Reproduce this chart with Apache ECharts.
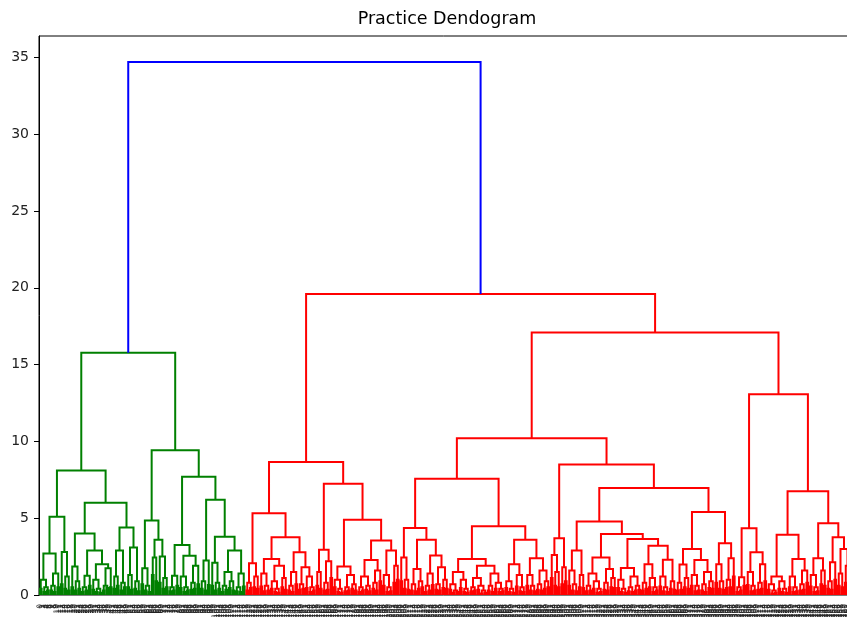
<!DOCTYPE html>
<html>
<head>
<meta charset="utf-8">
<script src="https://cdn.jsdelivr.net/npm/echarts@6/dist/echarts.min.js"></script>
<style>html,body{margin:0;padding:0;background:#fff}#c{width:847px;height:617px}</style>
</head>
<body>
<div id="c"></div>
<script>
// ---- Data: dendrogram merges as [height, left, right]; 0 = a leaf ----
const rootHeight = 34.7;
const greenTopHeight = 15.77;
const redTopHeight = 19.6;

// green cluster
const gG1L = [5.1, [2.7, [1.0, [0.4,0,0], [0.5, [0.2,0,0], [0.3,0,0]]], [1.4, [0.6, [0.3,0,0], [0.2,0,0]], [0.5,0,0]]], [2.8, [0.7,0,0], [1.2, [0.4,0,0], [0.3,0,0]]]];
const gG1RL = [4.0, [1.85, [0.5,0,0], [0.9, [0.3,0,0], [0.4,0,0]]], [2.9, [1.25, [0.5, [0.2,0,0], [0.3,0,0]], [0.6,0,0]], [2.0, [1.0, [0.35,0,0], [0.4, [0.2,0,0], [0.15,0,0]]], [1.75, [0.6, [0.3,0,0], [0.45,0,0]], [0.5,0,0]]]]];
const gG1RR = [4.4, [2.9, [1.2, [0.4,0,0], [0.6,0,0]], [0.8, [0.3,0,0], [0.5,0,0]]], [3.1, [1.3, [0.5,0,0], [0.35,0,0]], [0.9, [0.4,0,0], [0.25,0,0]]]];
const gG2L = [4.85, [1.75, [0.7,0,0], [0.6, [0.3,0,0], [0.2,0,0]]], [3.6, [2.45, [1.3,0,0], [0.9,0,0]], [2.5, [0.8,0,0], [1.1, [0.4,0,0], [0.5,0,0]]]]];
const gH = [3.25, [1.25, [0.5, [0.25,0,0], [0.3,0,0]], [0.6,0,0]], [2.55, [1.2, [0.45,0,0], [0.5, [0.2,0,0], [0.3,0,0]]], [1.9, [0.8, [0.35,0,0], [0.4,0,0]], [0.7,0,0]]]];
const gK = [3.8, [2.1, [0.6,0,0], [0.8, [0.3,0,0], [0.4,0,0]]], [2.9, [1.5, [0.6, [0.2,0,0], [0.35,0,0]], [0.9, [0.45,0,0], [0.3,0,0]]], [1.4, [0.5, [0.25,0,0], [0.2,0,0]], [0.55,0,0]]]];
const gI = [6.2, [2.25, [0.9, [0.4,0,0], [0.3,0,0]], [0.65,0,0]], gK];
const gG1 = [8.1, gG1L, [6.0, gG1RL, gG1RR]];
const gG2 = [9.42, gG2L, [7.7, gH, gI]];

// red cluster
const rM = [2.06, [0.8, [0.3,0,0], [0.45,0,0]], [1.2, [0.5,0,0], [0.4,0,0]]];
const rN1 = [2.35, [1.4, [0.55,0,0], [0.6, [0.25,0,0], [0.3,0,0]]], [1.9, [0.9, [0.4,0,0], [0.4, [0.2,0,0], [0.15,0,0]]], [1.1, [0.5,0,0], [0.35,0,0]]]];
const rN2 = [2.78, [1.5, [0.6, [0.3,0,0], [0.2,0,0]], [0.7,0,0]], [1.8, [0.7, [0.35,0,0], [0.4,0,0]], [1.2, [0.45,0,0], [0.5, [0.2,0,0], [0.3,0,0]]]]];
const rO = [2.94, [1.5, [0.6,0,0], [0.4,0,0]], [2.2, [0.8, [0.3,0,0], [0.35,0,0]], [1.1,0,0]]];
const rP1 = [1.85, [1.0, [0.5,0,0], [0.4, [0.2,0,0], [0.15,0,0]]], [1.3, [0.5, [0.25,0,0], [0.3,0,0]], [0.7, [0.4,0,0], [0.3,0,0]]]];
const rP2a = [2.28, [1.2, [0.5, [0.2,0,0], [0.3,0,0]], [0.6, [0.35,0,0], [0.25,0,0]]], [1.6, [0.8, [0.4,0,0], [0.3,0,0]], [0.9,0,0]]];
const rP2b = [2.9, [1.3, [0.6,0,0], [0.5, [0.2,0,0], [0.25,0,0]]], [1.9, [0.8,0,0], [1.0,0,0]]];
const rQ1 = [4.37, [2.45, [0.9,0,0], [1.0, [0.4,0,0], [0.35,0,0]]], [3.6, [1.7, [0.7, [0.3,0,0], [0.25,0,0]], [0.9, [0.4,0,0], [0.5,0,0]]], [2.57, [1.4, [0.6, [0.2,0,0], [0.3,0,0]], [0.65,0,0]], [1.8, [0.7, [0.35,0,0], [0.3,0,0]], [1.0, [0.45,0,0], [0.4,0,0]]]]]];
const rQ2a = [2.35, [1.5, [0.7, [0.35,0,0], [0.3, [0.15,0,0], [0.2,0,0]]], [1.0, [0.45,0,0], [0.4, [0.2,0,0], [0.15,0,0]]]], [1.9, [1.1, [0.5, [0.25,0,0], [0.3,0,0]], [0.6, [0.35,0,0], [0.3, [0.1,0,0], [0.15,0,0]]]], [1.4, [0.6, [0.3,0,0], [0.2,0,0]], [0.8, [0.4,0,0], [0.4, [0.2,0,0], [0.25,0,0]]]]]];
const rQ2b = [3.59, [2.0, [0.9, [0.45,0,0], [0.4, [0.2,0,0], [0.15,0,0]]], [1.3, [0.55,0,0], [0.5, [0.25,0,0], [0.2,0,0]]]], [2.4, [1.3, [0.6,0,0], [0.6, [0.3,0,0], [0.25,0,0]]], [1.6, [0.7, [0.35,0,0], [0.3,0,0]], [0.9, [0.4,0,0], [0.5,0,0]]]]];
const rS1 = [3.7, [2.6, [1.1,0,0], [1.5, [0.6,0,0], [0.5,0,0]]], [1.8, [0.7,0,0], [0.9,0,0]]];
const rT1 = [2.9, [1.6, [0.6,0,0], [0.7, [0.3,0,0], [0.25,0,0]]], [1.3, [0.5,0,0], [0.45,0,0]]];
const rT2a = [2.45, [1.4, [0.6, [0.25,0,0], [0.3,0,0]], [0.9, [0.4,0,0], [0.4, [0.15,0,0], [0.2,0,0]]]], [1.7, [0.8, [0.35,0,0], [0.3,0,0]], [1.1, [0.5,0,0], [0.45,0,0]]]];
const rT2b = [3.65, [1.76, [1.0, [0.45,0,0], [0.4, [0.2,0,0], [0.15,0,0]]], [1.2, [0.5, [0.25,0,0], [0.2,0,0]], [0.6, [0.3,0,0], [0.35,0,0]]]], [3.2, [2.0, [0.8, [0.3,0,0], [0.4,0,0]], [1.1, [0.5,0,0], [0.5, [0.2,0,0], [0.3,0,0]]]], [2.3, [1.2, [0.55,0,0], [0.5, [0.25,0,0], [0.2,0,0]]], [0.9, [0.4,0,0], [0.35,0,0]]]]];
const rU1 = [3.0, [1.98, [0.8, [0.3,0,0], [0.35,0,0]], [1.1, [0.5,0,0], [0.4,0,0]]], [2.28, [1.3, [0.6,0,0], [0.6, [0.25,0,0], [0.3,0,0]]], [1.5, [0.7, [0.3,0,0], [0.2,0,0]], [0.9, [0.45,0,0], [0.4,0,0]]]]];
const rU2 = [3.37, [2.0, [0.8,0,0], [0.9, [0.4,0,0], [0.35,0,0]]], [2.4, [1.0, [0.45,0,0], [0.5,0,0]], [1.2,0,0]]];
const rV = [4.35, [1.15, [0.5, [0.2,0,0], [0.3,0,0]], [0.6,0,0]], [2.78, [1.5, [0.65,0,0], [0.6, [0.25,0,0], [0.3,0,0]]], [2.0, [0.8, [0.35,0,0], [0.4,0,0]], [0.9,0,0]]]];
const rW1 = [3.92, [1.2, [0.7, [0.35,0,0], [0.3, [0.1,0,0], [0.15,0,0]]], [0.9, [0.4,0,0], [0.4, [0.2,0,0], [0.15,0,0]]]], [2.35, [1.2, [0.5,0,0], [0.5, [0.2,0,0], [0.25,0,0]]], [1.6, [0.7, [0.3,0,0], [0.35,0,0]], [0.8,0,0]]]];
const rW2 = [4.67, [2.4, [1.3, [0.55,0,0], [0.5, [0.2,0,0], [0.25,0,0]]], [1.6, [0.7,0,0], [0.6,0,0]]], [3.76, [2.13, [0.9, [0.4,0,0], [0.35,0,0]], [1.0,0,0]], [3.0, [1.4, [0.6,0,0], [0.5,0,0]], [1.9, [0.8,0,0], [0.7,0,0]]]]];

const rR1 = [8.66, [5.33, rM, [3.76, rN1, rN2]], [7.24, rO, [4.9, rP1, [3.55, rP2a, rP2b]]]];
const rQ = [7.57, rQ1, [4.48, rQ2a, rQ2b]];
const rS = [8.5, rS1, [6.96, [4.78, rT1, [3.98, rT2a, rT2b]], [5.4, rU1, rU2]]];
const rR2 = [17.1, [10.2, rQ, rS], [13.07, rV, [6.76, rW1, rW2]]];

const greenTree = [greenTopHeight, gG1, gG2];
const redTree = [redTopHeight, rR1, rR2];

const yTicks = [0, 5, 10, 15, 20, 25, 30, 35];
const colors = { green: '#008000', red: '#ff0000', blue: '#0000ff' };

// ---- Layout (scipy style: leaves at i+0.5, node x = mean of children) ----
let leafCount = 0;
const links = [];
function layout(node, color) {
  if (node === 0) { const x = leafCount + 0.5; leafCount++; return { x: x, h: 0 }; }
  const a = layout(node[1], color), b = layout(node[2], color);
  links.push({ coords: [[a.x, a.h], [a.x, node[0]], [b.x, node[0]], [b.x, b.h]], lineStyle: { color: color } });
  return { x: (a.x + b.x) / 2, h: node[0] };
}
const gRoot = layout(greenTree, colors.green);
const rRoot = layout(redTree, colors.red);
links.push({ coords: [[gRoot.x, gRoot.h], [gRoot.x, rootHeight], [rRoot.x, rootHeight], [rRoot.x, rRoot.h]], lineStyle: { color: colors.blue } });
const nLeaves = leafCount;
const leafLabels = [];
for (let i = 0; i < nLeaves; i++) leafLabels.push(String(i));

const chart = echarts.init(document.getElementById('c'), null, { renderer: 'canvas' });
chart.setOption({
  animation: false,
  backgroundColor: '#fff',
  textStyle: { fontFamily: 'DejaVu Sans' },
  title: {
    text: 'Practice Dendogram', left: 442, top: 5, textAlign: 'center',
    textStyle: { fontFamily: 'DejaVu Sans', fontSize: 17.5, fontWeight: 'normal', color: '#000' }
  },
  grid: { left: 39, width: 812, top: 36, bottom: 22, show: true, borderColor: '#000', borderWidth: 1,
    backgroundColor: 'transparent', outerBoundsMode: 'none', containLabel: false },
  xAxis: [
    { type: 'value', min: 0, max: nLeaves, show: true, axisLine: { show: false }, axisTick: { show: false }, axisLabel: { show: false }, splitLine: { show: false } },
    { type: 'category', data: leafLabels, boundaryGap: true, position: 'bottom', axisLine: { show: false }, axisTick: { show: false },
      axisLabel: { interval: 0, rotate: 90, fontSize: 7.5, color: '#222', margin: 9, fontFamily: 'DejaVu Sans' }, splitLine: { show: false } }
  ],
  yAxis: {
    type: 'value', min: 0, max: 36.4, interval: 5,
    axisLine: { show: true, lineStyle: { color: '#000', width: 1 } },
    axisTick: { show: true, length: 5, inside: false, customValues: yTicks, lineStyle: { color: '#000' } },
    axisLabel: { fontSize: 14, color: '#222', margin: 10, customValues: yTicks, fontFamily: 'DejaVu Sans' },
    splitLine: { show: false }
  },
  series: [{
    type: 'lines', coordinateSystem: 'cartesian2d', xAxisIndex: 0, yAxisIndex: 0,
    polyline: true, silent: true,
    lineStyle: { width: 2, opacity: 1 },
    data: links
  }]
});
</script>
</body>
</html>
